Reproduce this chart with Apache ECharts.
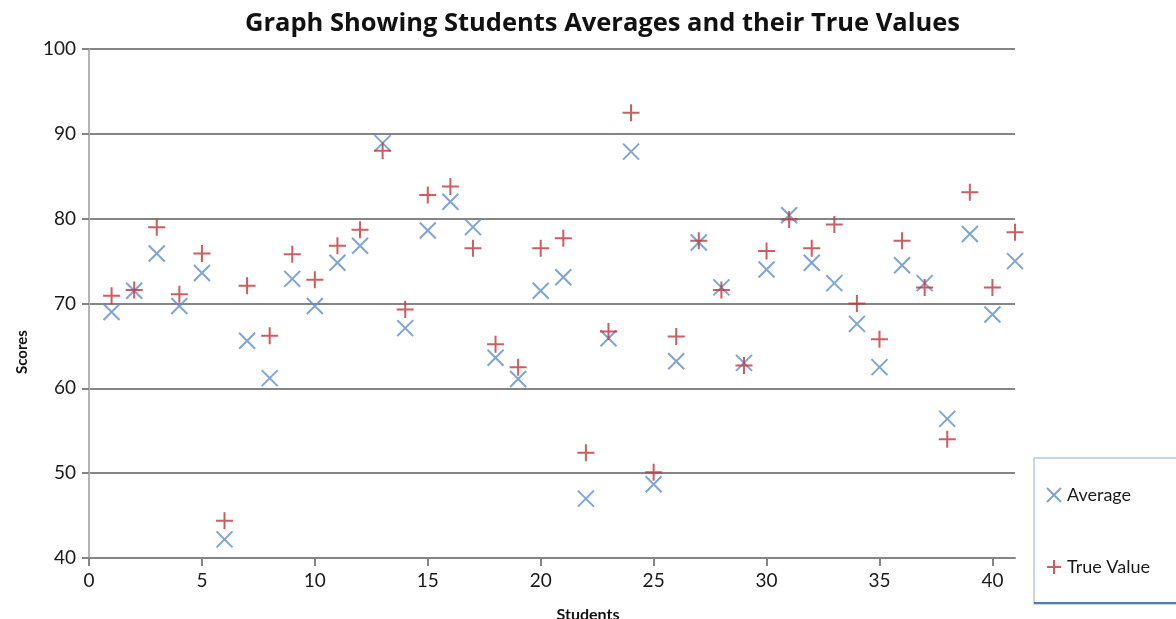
<!DOCTYPE html>
<html>
<head>
<meta charset="utf-8">
<script src="https://cdn.jsdelivr.net/npm/echarts@6/dist/echarts.min.js"></script>
<style>
html,body{margin:0;padding:0;background:#fff;}
#chart{width:1176px;height:619px;}
</style>
</head>
<body>
<div id="chart"></div>
<script>
const students = [1,2,3,4,5,6,7,8,9,10,11,12,13,14,15,16,17,18,19,20,21,22,23,24,25,26,27,28,29,30,31,32,33,34,35,36,37,38,39,40,41];
const averageValues = [69.0,71.5,75.9,69.7,73.6,42.2,65.6,61.2,72.9,69.7,74.8,76.8,88.9,67.1,78.6,82.0,79.0,63.6,61.1,71.5,73.1,47.0,65.9,87.9,48.7,63.2,77.2,71.9,63.0,74.0,80.4,74.8,72.4,67.6,62.5,74.5,72.4,56.4,78.2,68.7,75.0];
const trueValues = [70.9,71.6,79.0,71.1,75.9,44.4,72.1,66.2,75.8,72.8,76.8,78.7,88.0,69.3,82.8,83.8,76.5,65.2,62.5,76.5,77.7,52.4,66.7,92.5,50.1,66.1,77.4,71.6,62.7,76.2,79.9,76.5,79.3,70.0,65.8,77.4,71.9,54.0,83.1,71.9,78.4];
const xTickValues = [0,5,10,15,20,25,30,35,40];
const titleText = 'Graph Showing Students Averages and their True Values';

const avgData = students.map((s,i)=>[s, averageValues[i]]);
const trueData = students.map((s,i)=>[s, trueValues[i]]);

const FONT = 'Lato';
const chart = echarts.init(document.getElementById('chart'));
chart.setOption({
  animation: false,
  backgroundColor: '#ffffff',
  title: {
    text: titleText,
    left: 240,
    top: 6,
    textStyle: {fontFamily: 'Open Sans', fontSize: 25.5, fontWeight: 'bold', color: '#111'}
  },
  grid: {left: 89, right: 161, top: 49, bottom: 61, containLabel: false},
  legend: {
    orient: 'vertical',
    left: 1034,
    top: 458,
    padding: [28, 30, 28, 12],
    itemGap: 54,
    itemWidth: 16,
    itemHeight: 14,
    borderColor: '#b8c7dc',
    borderWidth: 1.5,
    textStyle: {fontFamily: FONT, fontSize: 18, color: '#1a1a1a'},
    data: ['Average', 'True Value']
  },
  xAxis: {
    type: 'value',
    min: 0, max: 41, interval: 5,
    splitLine: {show: false},
    axisLine: {lineStyle: {color: '#858585', width: 2}},
    axisTick: {customValues: xTickValues, length: 8, lineStyle: {color: '#858585', width: 2}},
    axisLabel: {customValues: xTickValues, fontFamily: FONT, fontSize: 19, color: '#1a1a1a', margin: 13}
  },
  yAxis: {
    type: 'value',
    min: 40, max: 100, interval: 10,
    axisLine: {show: true, lineStyle: {color: '#b4b4b4', width: 2}},
    axisTick: {show: true, length: 7, lineStyle: {color: '#858585', width: 2}},
    splitLine: {lineStyle: {color: '#858585', width: 2}},
    axisLabel: {fontFamily: FONT, fontSize: 19, color: '#1a1a1a', margin: 13}
  },
  graphic: [
    {type: 'text', x: 22, y: 352, rotation: Math.PI/2,
     style: {text: 'Scores', fontFamily: FONT, fontSize: 15, fontWeight: 'bold', fill: '#111', align: 'center', verticalAlign: 'middle'}},
    {type: 'text', x: 588, y: 615,
     style: {text: 'Students', fontFamily: FONT, fontSize: 16, fontWeight: 'bold', fill: '#111', align: 'center', verticalAlign: 'middle'}},
    {type: 'line', shape: {x1: 1034, y1: 603, x2: 1176, y2: 603}, style: {stroke: '#4f7ac0', lineWidth: 2}, z: 100}
  ],
  series: [
    {
      name: 'Average',
      type: 'scatter',
      data: avgData,
      symbol: 'path://M0,0L10,10M10,0L0,10',
      symbolSize: 16,
      itemStyle: {color: 'rgba(0,0,0,0)', borderColor: '#5f8dcc', borderWidth: 2}
    },
    {
      name: 'True Value',
      type: 'scatter',
      data: trueData,
      symbol: 'path://M5,0L5,10M0,5L10,5',
      symbolSize: 17,
      itemStyle: {color: 'rgba(0,0,0,0)', borderColor: '#c0343a', borderWidth: 2}
    }
  ]
});
</script>
</body>
</html>
